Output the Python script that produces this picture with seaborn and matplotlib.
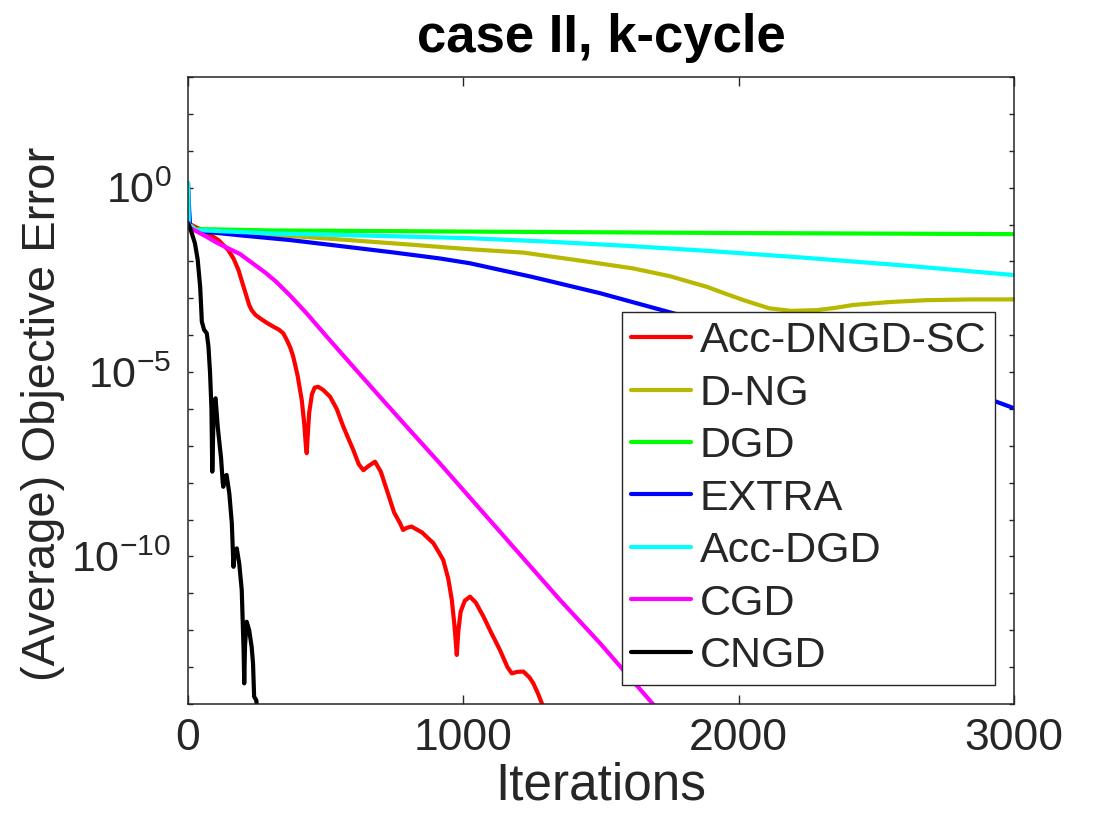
"""
case II, k-cycle : objective error vs iterations (MATLAB-look log plot)
"""

import numpy as np
import pandas as pd
import matplotlib
matplotlib.use("Agg")
import matplotlib.pyplot as plt
from matplotlib.ticker import FixedLocator, FuncFormatter, NullLocator
import seaborn as sns

# ─── Data (y given as log10 of the error) ───────────────────────────────────
methods = ["Acc-DNGD-SC", "D-NG", "DGD", "EXTRA", "Acc-DGD", "CGD", "CNGD"]
colors  = ["#ff0000", "#b8b800", "#00ff00", "#0000ff", "#00ffff", "#ff00ff", "#000000"]

acc_dngd_sc_it  = [0, 25, 60, 110, 146, 165, 183, 198, 213, 222, 231, 245, 261, 285, 310,
                   330, 346, 360, 372, 382, 398, 413, 422, 428, 431, 434, 440, 450, 460,
                   473, 490, 516, 540, 564, 585, 600, 620, 637, 655, 679, 700, 722, 748,
                   770, 781, 795, 812, 850, 891, 912, 927, 945, 958, 968, 976, 982, 990,
                   1005, 1024, 1045, 1073, 1100, 1133, 1160, 1176, 1195, 1218, 1240, 1254,
                   1270, 1285, 1300]
acc_dngd_sc_log = [-0.96, -1.06, -1.18, -1.42, -1.69, -1.92, -2.23, -2.60, -2.96, -3.18,
                   -3.32, -3.45, -3.54, -3.66, -3.77, -3.85, -3.95, -4.15, -4.35, -4.58,
                   -5.10, -5.76, -6.40, -7.00, -7.20, -6.80, -6.10, -5.60, -5.42, -5.40,
                   -5.48, -5.67, -6.00, -6.48, -6.85, -7.11, -7.50, -7.66, -7.55, -7.43,
                   -7.70, -8.20, -8.80, -9.10, -9.28, -9.22, -9.19, -9.35, -9.64, -9.90,
                   -10.10, -10.60, -11.18, -11.90, -12.67, -12.00, -11.50, -11.20, -11.09,
                   -11.25, -11.63, -12.05, -12.54, -13.00, -13.17, -13.13, -13.12, -13.28,
                   -13.44, -13.70, -13.98, -14.30]

d_ng_it  = [0, 30, 298, 600, 800, 1024, 1217, 1417, 1617, 1750, 1885, 1950, 2018, 2110,
            2190, 2284, 2350, 2416, 2550, 2684, 2850, 3000]
d_ng_log = [-0.96, -1.15, -1.27, -1.43, -1.54, -1.67, -1.76, -1.97, -2.19, -2.40, -2.69,
            -2.87, -3.05, -3.27, -3.34, -3.32, -3.26, -3.18, -3.10, -3.05, -3.03, -3.03]

dgd_it  = [0, 20, 300, 1000, 2000, 3000]
dgd_log = [-0.96, -1.12, -1.16, -1.19, -1.23, -1.26]

extra_it  = [0, 4, 8, 55, 200, 370, 550, 750, 915, 1024, 1250, 1496, 1765, 2000, 2200,
             2400, 2600, 2800, 2927, 3000]
extra_log = [0.12, -0.60, -1.10, -1.19, -1.30, -1.42, -1.58, -1.76, -1.92, -2.05, -2.42,
             -2.86, -3.41, -3.88, -4.30, -4.70, -5.10, -5.50, -5.78, -5.98]

acc_dgd_it  = [0, 3, 30, 298, 600, 1024, 1300, 1600, 1900, 2222, 2600, 3000]
acc_dgd_log = [0.12, -1.00, -1.15, -1.24, -1.29, -1.37, -1.46, -1.58, -1.72, -1.89, -2.11, -2.37]

cgd_it  = [0, 7, 60, 109, 150, 189, 240, 280, 320, 370, 431, 490, 552, 673, 794, 915,
           1351, 1496, 1700]
cgd_log = [-0.96, -1.09, -1.30, -1.51, -1.66, -1.80, -2.08, -2.30, -2.55, -2.92, -3.41,
           -3.92, -4.45, -5.47, -6.48, -7.48, -11.18, -12.35, -14.10]

cngd_it  = [0, 10, 25, 35, 44, 48, 50, 58, 68, 74, 80, 85, 88, 92, 97, 100, 108, 120, 126,
            128, 133, 140, 150, 159, 163, 165, 168, 177, 186, 195, 202, 204, 207, 213, 222,
            231, 236, 240, 248, 255]
cngd_log = [-0.96, -1.15, -1.51, -1.95, -2.69, -3.30, -3.63, -3.85, -3.95, -4.30, -5.03,
            -6.00, -7.70, -6.40, -5.75, -5.71, -6.50, -7.34, -8.00, -8.11, -7.85, -7.79,
            -8.30, -9.10, -9.90, -10.28, -10.00, -9.78, -10.20, -10.91, -12.60, -13.44,
            -12.40, -11.77, -12.00, -12.45, -12.90, -13.80, -13.90, -14.50]

ITERS = [acc_dngd_sc_it, d_ng_it, dgd_it, extra_it, acc_dgd_it, cgd_it, cngd_it]
LOGS  = [acc_dngd_sc_log, d_ng_log, dgd_log, extra_log, acc_dgd_log, cgd_log, cngd_log]

x_ticks      = [0, 1000, 2000, 3000]
y_decades    = list(range(-14, 4))
y_label_decs = [0, -5, -10]

# ─── Style ──────────────────────────────────────────────────────────────────
sns.set_theme(style="white")
plt.rcParams["font.family"] = ["Liberation Sans", "DejaVu Sans"]
plt.rcParams.update({
    "mathtext.fontset": "custom",
    "mathtext.rm": "Liberation Sans",
    "mathtext.it": "Liberation Sans:italic",
    "mathtext.bf": "Liberation Sans:bold",
})
AX_GRAY = "#262626"
LW = 3.0

# ─── Build long table ───────────────────────────────────────────────────────
frames = []
for name, its, lg in zip(methods, ITERS, LOGS):
    frames.append(pd.DataFrame({
        "Iterations": its,
        "Error": np.power(10.0, lg),
        "method": name,
    }))
df = pd.concat(frames, ignore_index=True)

# ─── Plot ───────────────────────────────────────────────────────────────────
fig = plt.figure(figsize=(11.2, 8.4), dpi=100)
ax = fig.add_axes([0.1679, 0.1619, 0.7375, 0.7464])
ax.set_yscale("log")

sns.lineplot(data=df, x="Iterations", y="Error", hue="method", hue_order=methods,
             palette=dict(zip(methods, colors)), estimator=None, sort=False,
             linewidth=LW, ax=ax, legend=True)
for ln in ax.get_lines():
    ln.set_solid_joinstyle("round")
    ln.set_solid_capstyle("round")

ax.set_xlim(0, 3000)
ax.set_ylim(1e-14, 1e3)

ax.xaxis.set_major_locator(FixedLocator(x_ticks))
ax.yaxis.set_major_locator(FixedLocator([10.0 ** d for d in y_decades]))
ax.yaxis.set_minor_locator(NullLocator())

def y_fmt(v, pos):
    d = int(round(np.log10(v)))
    if d in y_label_decs:
        return r"$\mathregular{10^{%d}}$" % d
    return ""

ax.yaxis.set_major_formatter(FuncFormatter(y_fmt))

ax.tick_params(axis="x", which="major", direction="in", length=6.5, width=1.0,
               color=AX_GRAY, labelcolor=AX_GRAY, labelsize=32, pad=10,
               top=True, bottom=True)
ax.tick_params(axis="y", which="major", direction="in", length=3.5, width=1.0,
               color=AX_GRAY, labelcolor=AX_GRAY, labelsize=31, pad=12,
               left=True, right=True)

for sp in ax.spines.values():
    sp.set_visible(True)
    sp.set_edgecolor(AX_GRAY)
    sp.set_linewidth(1.1)

ax.set_xlabel("Iterations", fontsize=37, color=AX_GRAY, labelpad=2)
ax.set_ylabel("(Average) Objective Error", fontsize=34, color=AX_GRAY)
ax.yaxis.set_label_coords(-0.149, 0.4625)
ax.set_title("case II, k-cycle", fontsize=38, fontweight="bold", color="black", pad=18)

handles, labels = ax.get_legend_handles_labels()
for h in handles:
    h.set_linewidth(LW)
leg = ax.legend(handles, labels, loc="lower right", fontsize=31, frameon=True,
                fancybox=False, framealpha=1.0, edgecolor=AX_GRAY,
                borderaxespad=0.45, borderpad=0.2, labelspacing=0.29,
                handlelength=1.4, handletextpad=0.2)
leg.get_frame().set_linewidth(1.0)

fig.savefig("out.png", dpi=100, facecolor="white")
plt.close(fig)
